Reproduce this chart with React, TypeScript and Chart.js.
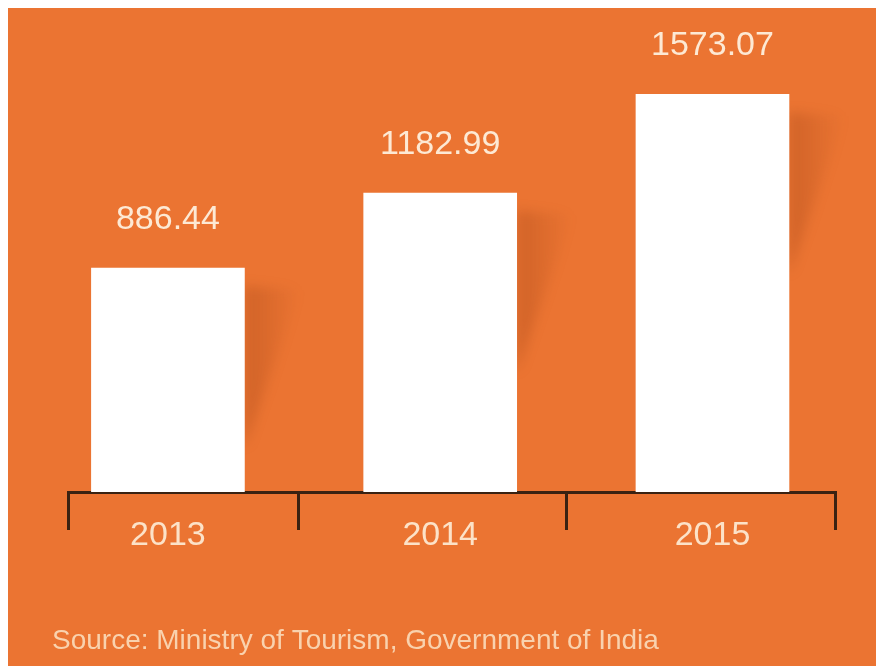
import React, { useEffect, useRef } from "react";
import { Chart, registerables } from "chart.js";

Chart.register(...registerables);

const years = ["2013", "2014", "2015"];
const earnings = [886.44, 1182.99, 1573.07];
const valueLabels = ["886.44", "1182.99", "1573.07"];
const sourceText = "Source: Ministry of Tourism, Government of India";
const dividers = [0.48, 1.465];

const BG = "#EB7432";
const AXIS = "#3a2212";

export default function App() {
  const ref = useRef<HTMLCanvasElement | null>(null);

  useEffect(() => {
    if (!ref.current) return;
    const labelPlugin = {
      id: "valueAndSource",
      beforeDatasetsDraw(chart: any) {
        const ctx = chart.ctx;
        const meta = chart.getDatasetMeta(0);
        ctx.save();
        meta.data.forEach((bar: any) => {
          const w = bar.width;
          const x0 = bar.x + w / 2;
          const g = ctx.createLinearGradient(x0, 0, x0 + 55, 0);
          g.addColorStop(0, "rgba(140,55,15,0.28)");
          g.addColorStop(1, "rgba(140,55,15,0)");
          ctx.fillStyle = g;
          ctx.filter = "blur(6px)";
          ctx.beginPath();
          ctx.moveTo(x0, bar.y + 18);
          ctx.lineTo(x0 + 55, bar.y + 22);
          ctx.lineTo(x0, bar.y + 180);
          ctx.closePath();
          ctx.fill();
          ctx.filter = "none";
        });
        ctx.restore();
      },
      afterDatasetsDraw(chart: any) {
        const ctx = chart.ctx;
        const meta = chart.getDatasetMeta(0);
        ctx.save();
        ctx.font = "34px 'Liberation Sans', Arial, sans-serif";
        ctx.fillStyle = "#FDE9D4";
        ctx.textAlign = "center";
        ctx.textBaseline = "alphabetic";
        meta.data.forEach((bar: any, i: number) => {
          ctx.fillText(valueLabels[i], bar.x, bar.y - 39);
        });
        ctx.font = "28px 'Liberation Sans', Arial, sans-serif";
        ctx.fillStyle = "#F9D2AE";
        ctx.textAlign = "left";
        ctx.textBaseline = "middle";
        ctx.fillText(sourceText, 44, 633);
        ctx.restore();
      },
    };

    const chart = new Chart(ref.current, {
      type: "bar",
      data: {
        labels: years,
        datasets: [
          {
            data: earnings.map((v, i) => ({ x: i, y: v })) as any,
            backgroundColor: "#FFFFFF",
            borderWidth: 0,
            barThickness: 153,
          },
        ],
      },
      options: {
        animation: false,
        responsive: false,
        maintainAspectRatio: false,
        layout: { padding: { left: 60, right: 41, top: 0, bottom: 0 } },
        plugins: {
          legend: { display: false },
          tooltip: { enabled: false },
          title: { display: false },
        },
        scales: {
          y: { display: false, min: 0, max: 1915 },
          x: {
            type: "linear",
            offset: false,
            min: -0.367,
            max: 2.45,
            afterBuildTicks: (scale: any) => {
              scale.ticks = [scale.min, 0, dividers[0], 1, dividers[1], 2, scale.max].map((v: number) => ({ value: v }));
            },
            afterFit: (scale: any) => {
              scale.height = 174;
            },
            border: { display: true, color: AXIS, width: 3 },
            grid: {
              offset: false,
              drawOnChartArea: false,
              drawTicks: true,
              tickLength: 38,
              lineWidth: 3,
              color: (c: any) => {
                const v = c.tick ? c.tick.value : 0;
                return Number.isInteger(v) ? "rgba(0,0,0,0)" : AXIS;
              },
            },
            ticks: {
              autoSkip: false,
              maxRotation: 0,
              padding: -15,
              color: "#FCE2C8",
              font: { family: "'Liberation Sans', Arial, sans-serif", size: 34 },
              callback: (value: any) => {
                const v = Number(value);
                return Number.isInteger(v) && v >= 0 && v < years.length ? years[v] : "";
              },
            },
          },
        },
      },
      plugins: [labelPlugin],
    });
    return () => chart.destroy();
  }, []);

  return (
    <div
      style={{
        position: "fixed",
        left: 8,
        top: 8,
        width: 868,
        height: 658,
        background: BG,
      }}
    >
      <canvas ref={ref} width={868} height={658} style={{ display: "block" }} />
    </div>
  );
}
